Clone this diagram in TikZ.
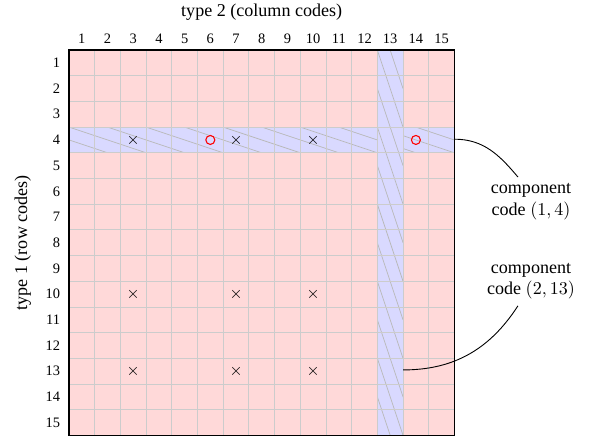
\documentclass[tikz,border=0pt]{standalone}
\usepackage[no-math]{fontspec}
\setmainfont{Liberation Serif}
\begin{document}
\begin{tikzpicture}[x=0.5cm,y=-0.5cm,
  gridline/.style={gray!40,line width=0.5pt},
  hatch/.style={gray!55,line width=0.4pt},
  frame/.style={draw=black,line width=0.6pt},
  crossmark/.style={inner sep=0pt,font=\small},
  ring/.style={draw=red,line width=0.6pt},
  numlab/.style={font=\footnotesize},
  lab/.style={align=center},
  conn/.style={black,line width=0.5pt}]
\useasboundingbox (-2.685,-1.946) rectangle (20.47,15.10);
% fills
\fill[red!15] (0,0) rectangle (15,15);
\fill[blue!15] (0,3) rectangle (15,4);
\begin{scope}
  \clip (0,3) rectangle (15,4);
  \foreach \x in {-3,-1.5,...,15} \draw[hatch] (\x,3) -- ++(3,1);
\end{scope}
\fill[blue!15] (12,0) rectangle (13,15);
\begin{scope}
  \clip (12,0) rectangle (13,15);
  \foreach \y in {-3,-1.5,...,15} \draw[hatch] (12,\y) -- ++(1,3);
\end{scope}
% grid
\foreach \i in {1,...,14} {
  \draw[gridline] (\i,0) -- (\i,15);
  \draw[gridline] (0,\i) -- (15,\i);
}
\node[frame,minimum width=7.5cm,minimum height=7.5cm,inner sep=0pt] (grid) at (7.5,7.5) {};
% labels
\foreach \j in {1,...,15} \node[numlab] (col\j) at (\j-0.5,-0.43) {\j};
\foreach \i in {1,...,15} \node[numlab,anchor=east] (row\i) at (-0.1,\i-0.5) {\i};
\node (title2) at (7.5,-1.48) {type 2 (column codes)};
\node[rotate=90] (title1) at (-1.8,7.5) {type 1 (row codes)};
% marks
\foreach \r/\c [count=\k] in {4/3,4/7,4/10,10/3,10/7,10/10,13/3,13/7,13/10}
  \node[crossmark] (x\k) at (\c-0.5,\r-0.5) {$\times$};
\node[ring,circle,minimum size=0.35cm*0.5/0.5*0.5,inner sep=0pt] (o1) at (5.5,3.5) {};
\node[ring,circle,minimum size=0.175cm,inner sep=0pt] (o2) at (13.5,3.5) {};
% component labels
\node[lab] (lab1) at (17.98,5.9) {component\\code $(1,4)$};
\node[lab] (lab2) at (17.98,9.0) {component\\code $(2,13)$};
\coordinate (r4) at (15,3.47);
\coordinate (c13) at (13,12.45);
\draw[conn] (r4) to[out=0,in=130] (lab1.118);
\draw[conn] (c13) to[out=0,in=-123] (lab2.242);
\end{tikzpicture}
\end{document}
